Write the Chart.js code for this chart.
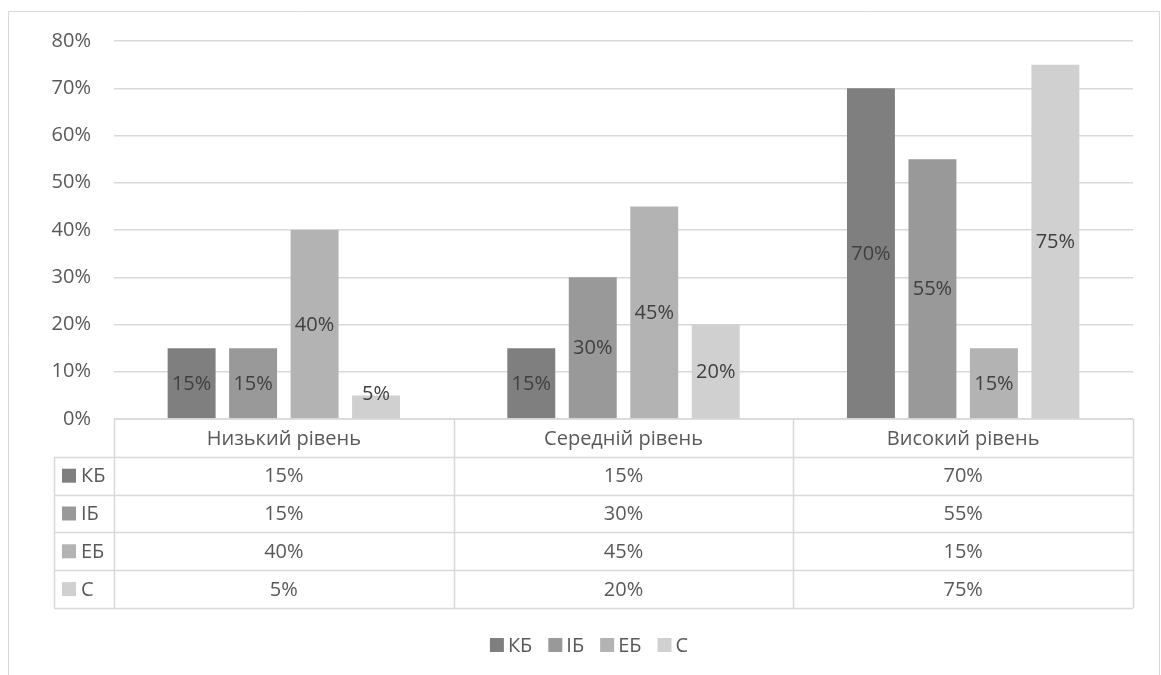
<!DOCTYPE html>
<html>
<head>
<meta charset="utf-8">
<script src="https://cdn.jsdelivr.net/npm/chart.js@4"></script>
<style>
  html, body { margin: 0; padding: 0; background: #ffffff; }
  #wrap { position: relative; width: 1161px; height: 675px; }
</style>
</head>
<body>
<div id="wrap"><canvas id="chart" width="1161" height="675"></canvas></div>
<script>
// Категорії та ряди даних (відсотки)
const categories = ['Низький рівень', 'Середній рівень', 'Високий рівень'];
const seriesNames = ['КБ', 'ІБ', 'ЕБ', 'С'];
const valuesKB = [15, 15, 70];
const valuesIB = [15, 30, 55];
const valuesEB = [40, 45, 15];
const valuesC  = [5, 20, 75];
const yTickValues = [0, 10, 20, 30, 40, 50, 60, 70, 80];
const seriesColors = ['#7f7f7f', '#999999', '#b3b3b3', '#d0d0d0'];

const FONT = '"Open Sans", "Noto Sans", sans-serif';
const FONT_SIZE = 20;
const TEXT_GREY = '#595959';
const LABEL_GREY = '#404040';
const LINE_GREY = '#d9d9d9';

const seriesValues = [valuesKB, valuesIB, valuesEB, valuesC];
const fmt = v => v + '%';

// Рамка області діаграми
const framePlugin = {
  id: 'frame',
  beforeDraw(chart) {
    const ctx = chart.ctx;
    ctx.save();
    ctx.strokeStyle = LINE_GREY;
    ctx.lineWidth = 1;
    ctx.beginPath();
    ctx.moveTo(8.5, 700);
    ctx.lineTo(8.5, 11.5);
    ctx.lineTo(1159.5, 11.5);
    ctx.lineTo(1159.5, 700);
    ctx.stroke();
    ctx.restore();
  }
};

// Підписи значень на стовпцях, таблиця даних і легенда
const tablePlugin = {
  id: 'dataTable',
  afterDatasetsDraw(chart) {
    const ctx = chart.ctx;
    const area = chart.chartArea;
    ctx.save();
    ctx.font = FONT_SIZE + 'px ' + FONT;
    ctx.textAlign = 'center';
    ctx.textBaseline = 'middle';

    // підписи значень
    ctx.fillStyle = LABEL_GREY;
    chart.data.datasets.forEach((ds, di) => {
      const meta = chart.getDatasetMeta(di);
      meta.data.forEach((bar, i) => {
        const h = bar.base - bar.y;
        let cy = (bar.y + bar.base) / 2;
        if (h < 28) cy = bar.y - 2;
        ctx.fillText(fmt(ds.data[i]), bar.x, cy + 1);
      });
    });

    // таблиця даних
    const left = area.left, right = area.right, top = area.bottom;
    const labelLeft = 54;
    const headerH = 37.8, rowH = 37.8;
    const nRows = seriesNames.length;
    const bottom = top + headerH + rowH * nRows;
    const colW = (right - left) / categories.length;

    ctx.strokeStyle = LINE_GREY;
    ctx.lineWidth = 1.5;
    ctx.beginPath();
    // горизонтальні лінії
    ctx.moveTo(left, top); ctx.lineTo(right, top);
    for (let r = 0; r <= nRows; r++) {
      const y = Math.round(top + headerH + rowH * r) + 0.5;
      ctx.moveTo(labelLeft, y); ctx.lineTo(right, y);
    }
    // вертикальні лінії
    const yh = Math.round(top + headerH) + 0.5;
    ctx.moveTo(labelLeft + 0.5, yh); ctx.lineTo(labelLeft + 0.5, bottom);
    for (let c = 0; c <= categories.length; c++) {
      const x = Math.round(left + colW * c) + 0.5;
      ctx.moveTo(x, top); ctx.lineTo(x, bottom);
    }
    ctx.stroke();

    ctx.fillStyle = TEXT_GREY;
    categories.forEach((cat, c) => {
      const cx = left + colW * (c + 0.5);
      ctx.fillText(cat, cx, top + headerH / 2 + 1);
      seriesValues.forEach((vals, r) => {
        ctx.fillText(fmt(vals[c]), cx, top + headerH + rowH * (r + 0.5) + 1);
      });
    });

    ctx.textAlign = 'left';
    seriesNames.forEach((name, r) => {
      const cy = top + headerH + rowH * (r + 0.5);
      ctx.fillStyle = seriesColors[r];
      ctx.fillRect(62, cy - 7, 14, 14);
      ctx.fillStyle = TEXT_GREY;
      ctx.fillText(name, 81, cy + 1);
    });

    // легенда
    const box = 14, gapIn = 4, gapOut = 16;
    const widths = seriesNames.map(n => ctx.measureText(n).width);
    let total = 0;
    widths.forEach((w, i) => { total += box + gapIn + w + (i < widths.length - 1 ? gapOut : 0); });
    let x = 589 - total / 2;
    const ly = 645;
    seriesNames.forEach((name, i) => {
      ctx.fillStyle = seriesColors[i];
      ctx.fillRect(x, ly - 7, box, box);
      ctx.fillStyle = TEXT_GREY;
      ctx.fillText(name, x + box + gapIn, ly + 1);
      x += box + gapIn + widths[i] + gapOut;
    });

    ctx.restore();
  }
};

new Chart(document.getElementById('chart'), {
  type: 'bar',
  data: {
    labels: categories,
    datasets: seriesNames.map((name, i) => ({
      label: name,
      data: seriesValues[i],
      backgroundColor: seriesColors[i],
      borderWidth: 0,
      categoryPercentage: 0.724,
      barPercentage: 0.78
    }))
  },
  options: {
    responsive: false,
    animation: false,
    layout: { padding: { left: 0, right: 28, top: 41, bottom: 256 } },
    plugins: {
      legend: { display: false },
      tooltip: { enabled: false }
    },
    scales: {
      x: { display: false },
      y: {
        min: 0,
        max: 80,
        afterBuildTicks(scale) { scale.ticks = yTickValues.map(v => ({ value: v })); },
        afterFit(scale) { scale.width = 114; },
        border: { display: false },
        grid: { color: LINE_GREY, lineWidth: 1.5, drawTicks: false },
        ticks: {
          padding: 23,
          color: TEXT_GREY,
          font: { family: FONT, size: FONT_SIZE },
          callback: v => fmt(v)
        }
      }
    }
  },
  plugins: [framePlugin, tablePlugin]
});
</script>
</body>
</html>
